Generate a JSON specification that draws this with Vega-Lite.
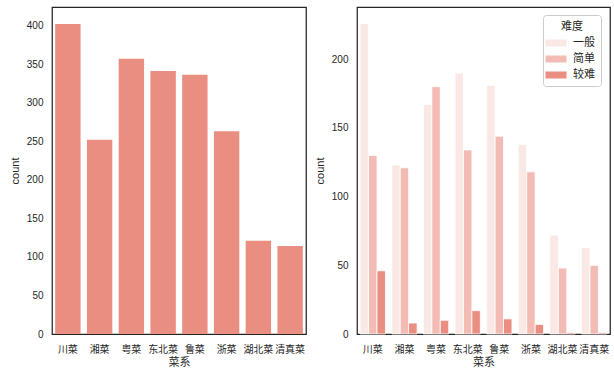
{
  "$schema": "https://vega.github.io/schema/vega-lite/v6.json",
  "padding": {"left": 8, "top": 6, "right": 5, "bottom": 5},
  "background": "white",
  "data": {"values": [
    {"菜系": "川菜", "难度": "一般", "count": 226},
    {"菜系": "川菜", "难度": "简单", "count": 130},
    {"菜系": "川菜", "难度": "较难", "count": 46},
    {"菜系": "湘菜", "难度": "一般", "count": 123},
    {"菜系": "湘菜", "难度": "简单", "count": 121},
    {"菜系": "湘菜", "难度": "较难", "count": 8},
    {"菜系": "粤菜", "难度": "一般", "count": 167},
    {"菜系": "粤菜", "难度": "简单", "count": 180},
    {"菜系": "粤菜", "难度": "较难", "count": 10},
    {"菜系": "东北菜", "难度": "一般", "count": 190},
    {"菜系": "东北菜", "难度": "简单", "count": 134},
    {"菜系": "东北菜", "难度": "较难", "count": 17},
    {"菜系": "鲁菜", "难度": "一般", "count": 181},
    {"菜系": "鲁菜", "难度": "简单", "count": 144},
    {"菜系": "鲁菜", "难度": "较难", "count": 11},
    {"菜系": "浙菜", "难度": "一般", "count": 138},
    {"菜系": "浙菜", "难度": "简单", "count": 118},
    {"菜系": "浙菜", "难度": "较难", "count": 7},
    {"菜系": "湖北菜", "难度": "一般", "count": 72},
    {"菜系": "湖北菜", "难度": "简单", "count": 48},
    {"菜系": "湖北菜", "难度": "较难", "count": 1},
    {"菜系": "清真菜", "难度": "一般", "count": 63},
    {"菜系": "清真菜", "难度": "简单", "count": 50},
    {"菜系": "清真菜", "难度": "较难", "count": 1}
  ]},
  "spacing": 6,
  "hconcat": [
    {
      "width": 254,
      "height": 327,
      "mark": {"type": "bar", "color": "#E98E81"},
      "encoding": {
        "x": {"field": "菜系", "type": "nominal", "sort": ["川菜","湘菜","粤菜","东北菜","鲁菜","浙菜","湖北菜","清真菜"],
              "scale": {"paddingInner": 0.2, "paddingOuter": 0.1}, "axis": {"labelAngle": 0}},
        "y": {"aggregate": "sum", "field": "count", "type": "quantitative", "title": "count",
              "scale": {"domain": [0, 424], "nice": false},
              "axis": {"values": [0,50,100,150,200,250,300,350,400]}}
      }
    },
    {
      "width": 253,
      "height": 327,
      "mark": {"type": "bar", "stroke": "white", "strokeWidth": 0.8},
      "encoding": {
        "x": {"field": "菜系", "type": "nominal", "sort": ["川菜","湘菜","粤菜","东北菜","鲁菜","浙菜","湖北菜","清真菜"],
              "scale": {"paddingInner": 0.2, "paddingOuter": 0.1}, "axis": {"labelAngle": 0}},
        "xOffset": {"field": "难度", "type": "nominal", "sort": ["一般","简单","较难"], "scale": {"paddingInner": 0, "paddingOuter": 0}},
        "y": {"field": "count", "type": "quantitative", "title": "count",
              "scale": {"domain": [0, 238], "nice": false},
              "axis": {"values": [0,50,100,150,200]}},
        "color": {"field": "难度", "type": "nominal", "sort": ["一般","简单","较难"],
                  "scale": {"domain": ["一般","简单","较难"], "range": ["#FAE8E5","#F2BCB5","#E98E81"]},
                  "legend": {"orient": "none", "legendX": 491, "legendY": 8, "title": "难度",
                             "titleAnchor": "middle", "titleAlign": "center", "titleFontSize": 11, "titleFontWeight": "normal",
                             "labelFontSize": 11, "symbolType": "M-1.5,-0.5H1.5V0.5H-1.5Z", "symbolSize": 196,
                             "symbolStrokeWidth": 0, "symbolOpacity": 1,
                             "fillColor": "white", "strokeColor": "#CCCCCC", "cornerRadius": 3, "padding": 6,
                             "rowPadding": 4, "labelOffset": 10, "titlePadding": 4}}
      }
    }
  ],
  "config": {
    "font": "Liberation Sans, Noto Sans CJK SC",
    "view": {"stroke": "#262626", "strokeWidth": 1.25},
    "axis": {"domain": false, "ticks": false, "tickSize": 0, "grid": false,
             "labelColor": "#262626", "titleColor": "#262626", "labelFontSize": 10, "titleFontSize": 11,
             "titleFontWeight": "normal", "labelFont": "Liberation Sans, Noto Sans CJK SC", "titleFont": "Liberation Sans, Noto Sans CJK SC"},
    "axisX": {"labelPadding": 10, "titlePadding": 2},
    "axisY": {"labelPadding": 9, "titlePadding": 6},
    "legend": {"labelColor": "#262626", "titleColor": "#262626", "labelFont": "Liberation Sans, Noto Sans CJK SC", "titleFont": "Liberation Sans, Noto Sans CJK SC"}
  }
}
